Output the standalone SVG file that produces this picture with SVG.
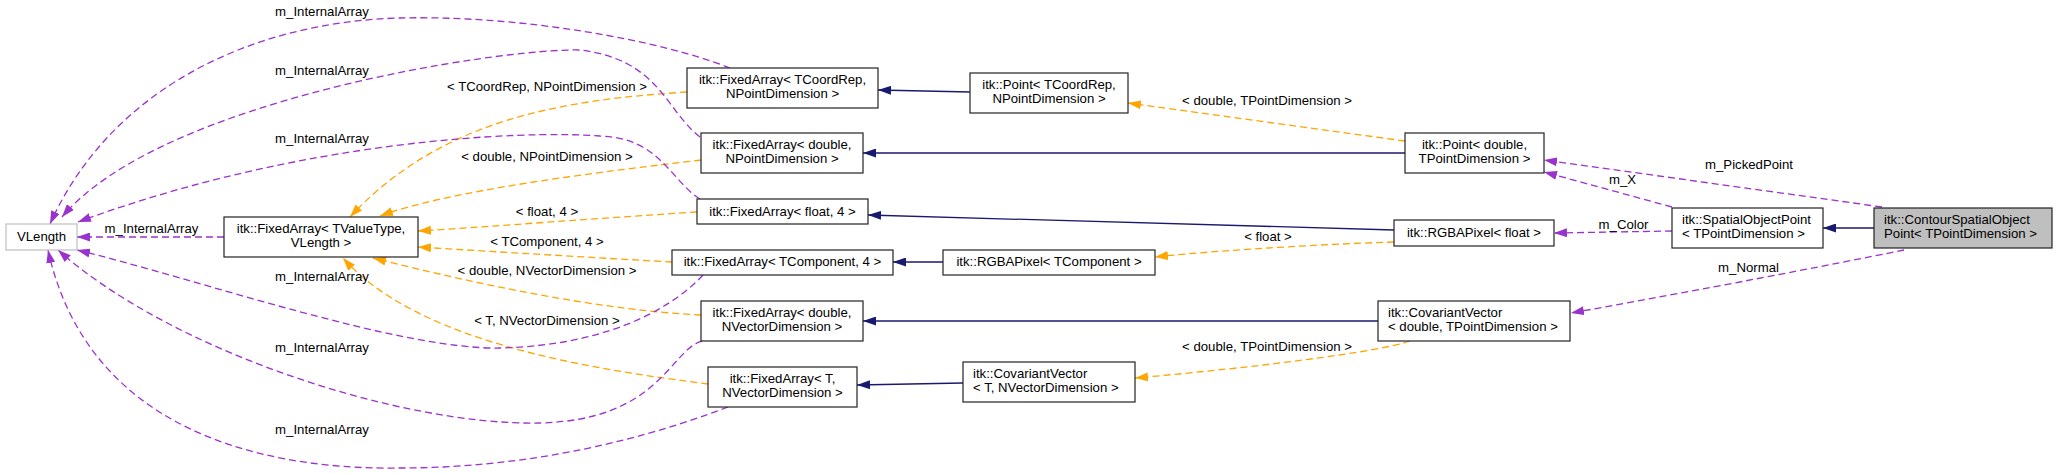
<svg xmlns="http://www.w3.org/2000/svg" width="2056" height="474" viewBox="0 0 2056 474">
<style>
text{font-family:"Liberation Sans",Arial,Helvetica,sans-serif;font-size:13.2px;fill:#000}
.m{text-anchor:middle}
.node rect{fill:#fff;stroke:#222;stroke-width:1.2}
.inh{fill:none;stroke:#191970;stroke-width:1.3}
.tpl{fill:none;stroke:#ffa500;stroke-width:1.3;stroke-dasharray:7,4}
.mem{fill:none;stroke:#9a32cd;stroke-width:1.3;stroke-dasharray:7,4}
</style>
<defs>
<marker id="aN" viewBox="0 0 13 9" refX="13" refY="4.5" markerWidth="13" markerHeight="9" markerUnits="userSpaceOnUse" orient="auto"><path d="M0,0 L13,4.5 L0,9 z" fill="#191970"/></marker>
<marker id="aO" viewBox="0 0 13 9" refX="13" refY="4.5" markerWidth="13" markerHeight="9" markerUnits="userSpaceOnUse" orient="auto"><path d="M0,0 L13,4.5 L0,9 z" fill="#ffa500"/></marker>
<marker id="aP" viewBox="0 0 13 9" refX="13" refY="4.5" markerWidth="13" markerHeight="9" markerUnits="userSpaceOnUse" orient="auto"><path d="M0,0 L13,4.5 L0,9 z" fill="#9a32cd"/></marker>
</defs>

<g id="connectors">
  <!-- inheritance -->
  <path class="inh" d="M970,92 L878,90" marker-end="url(#aN)"/>
  <path class="inh" d="M1405,153 L863,153" marker-end="url(#aN)"/>
  <path class="inh" d="M1394,230 L868,215" marker-end="url(#aN)"/>
  <path class="inh" d="M943,262 L893,262" marker-end="url(#aN)"/>
  <path class="inh" d="M1378,321 L863,321" marker-end="url(#aN)"/>
  <path class="inh" d="M963,383 L857,385" marker-end="url(#aN)"/>
  <path class="inh" d="M1874,228 L1823,228" marker-end="url(#aN)"/>

  <!-- template instantiations -->
  <path class="tpl" d="M687,92 C560,100 440,120 350,217" marker-end="url(#aO)"/>
  <text class="m" x="547" y="91">&lt; TCoordRep, NPointDimension &gt;</text>
  <path class="tpl" d="M701,160 C600,172 450,190 380,216" marker-end="url(#aO)"/>
  <text class="m" x="547" y="161">&lt; double, NPointDimension &gt;</text>
  <path class="tpl" d="M697,212 C600,218 500,226 418,231" marker-end="url(#aO)"/>
  <text class="m" x="547" y="215.5">&lt; float, 4 &gt;</text>
  <path class="tpl" d="M672,262 C600,258 500,252 418,247" marker-end="url(#aO)"/>
  <text class="m" x="547" y="245.5">&lt; TComponent, 4 &gt;</text>
  <path class="tpl" d="M701,315 C600,310 480,285 373,258" marker-end="url(#aO)"/>
  <text class="m" x="547" y="275">&lt; double, NVectorDimension &gt;</text>
  <path class="tpl" d="M708,384 C600,370 420,345 343,258" marker-end="url(#aO)"/>
  <text class="m" x="547" y="325">&lt; T, NVectorDimension &gt;</text>
  <path class="tpl" d="M1405,141 L1128,103" marker-end="url(#aO)"/>
  <text class="m" x="1267" y="104.5">&lt; double, TPointDimension &gt;</text>
  <path class="tpl" d="M1394,242 C1300,245 1200,252 1155,257" marker-end="url(#aO)"/>
  <text class="m" x="1268" y="241">&lt; float &gt;</text>
  <path class="tpl" d="M1410,341 C1380,352 1250,368 1135,378" marker-end="url(#aO)"/>
  <text class="m" x="1267" y="351">&lt; double, TPointDimension &gt;</text>

  <!-- members -->
  <path class="mem" d="M730,68 C660,40 520,15 400,18 C250,22 110,90 50,224" marker-end="url(#aP)"/>
  <text class="m" x="322" y="16">m_InternalArray</text>
  <path class="mem" d="M700,137 C665,110 660,60 580,50 C500,48 160,100 62,217" marker-end="url(#aP)"/>
  <text class="m" x="322" y="75">m_InternalArray</text>
  <path class="mem" d="M700,199 C670,180 660,138 600,136 C520,130 300,140 78,222" marker-end="url(#aP)"/>
  <text class="m" x="322" y="143">m_InternalArray</text>
  <path class="mem" d="M224,237 L77,237" marker-end="url(#aP)"/>
  <text class="m" x="151.5" y="233">m_InternalArray</text>
  <path class="mem" d="M703,275 C680,300 620,345 500,348 C400,350 200,280 77,250" marker-end="url(#aP)"/>
  <text class="m" x="322" y="281">m_InternalArray</text>
  <path class="mem" d="M702,341 C670,350 660,420 540,423 C400,426 170,350 58,250" marker-end="url(#aP)"/>
  <text class="m" x="322" y="352">m_InternalArray</text>
  <path class="mem" d="M728,407 C680,425 560,468 400,468 C280,470 90,440 48,250" marker-end="url(#aP)"/>
  <text class="m" x="322" y="433.5">m_InternalArray</text>
  <path class="mem" d="M1882,207 L1544,160" marker-end="url(#aP)"/>
  <text class="m" x="1749" y="168.5">m_PickedPoint</text>
  <path class="mem" d="M1672,207 L1544,172" marker-end="url(#aP)"/>
  <text class="m" x="1622.5" y="183.5">m_X</text>
  <path class="mem" d="M1672,231 L1554,233" marker-end="url(#aP)"/>
  <text class="m" x="1623.5" y="228.5">m_Color</text>
  <path class="mem" d="M1904,250 C1830,265 1700,290 1571,313" marker-end="url(#aP)"/>
  <text class="m" x="1748.5" y="271.5">m_Normal</text>
</g>

<g id="node-VLength" class="node"><rect x="6" y="224" width="71" height="26" style="stroke:#bfbfbf"/><text class="m" x="41.5" y="241">VLength</text></g>
<g id="node-FixedArray-TValueType" class="node"><rect x="224" y="217" width="194" height="40"/><text class="m" x="321" y="233">itk::FixedArray&lt; TValueType,</text><text class="m" x="321" y="247">VLength &gt;</text></g>
<g id="node-FixedArray-TCoordRep" class="node"><rect x="687" y="68" width="191" height="40"/><text class="m" x="782.5" y="84">itk::FixedArray&lt; TCoordRep,</text><text class="m" x="782.5" y="98">NPointDimension &gt;</text></g>
<g id="node-Point-TCoordRep" class="node"><rect x="970" y="73" width="158" height="40"/><text class="m" x="1049" y="89">itk::Point&lt; TCoordRep,</text><text class="m" x="1049" y="103">NPointDimension &gt;</text></g>
<g id="node-FixedArray-double-NPoint" class="node"><rect x="701" y="133" width="162" height="40"/><text class="m" x="782" y="149">itk::FixedArray&lt; double,</text><text class="m" x="782" y="163">NPointDimension &gt;</text></g>
<g id="node-FixedArray-float-4" class="node"><rect x="697" y="199" width="171" height="25"/><text class="m" x="782.5" y="215.5">itk::FixedArray&lt; float, 4 &gt;</text></g>
<g id="node-Point-double" class="node"><rect x="1405" y="133" width="139" height="40"/><text class="m" x="1474.5" y="149">itk::Point&lt; double,</text><text class="m" x="1474.5" y="163">TPointDimension &gt;</text></g>
<g id="node-RGBAPixel-float" class="node"><rect x="1394" y="220" width="160" height="26"/><text class="m" x="1474" y="237">itk::RGBAPixel&lt; float &gt;</text></g>
<g id="node-SpatialObjectPoint" class="node"><rect x="1672" y="208" width="151" height="40"/><text x="1682" y="224">itk::SpatialObjectPoint</text><text x="1682" y="238">&lt; TPointDimension &gt;</text></g>
<g id="node-ContourSpatialObjectPoint" class="node"><rect x="1874" y="208" width="178" height="40" style="fill:#bfbfbf"/><text x="1884" y="224">itk::ContourSpatialObject</text><text x="1884" y="238">Point&lt; TPointDimension &gt;</text></g>
<g id="node-FixedArray-TComponent-4" class="node"><rect x="672" y="250" width="221" height="25"/><text class="m" x="782.5" y="266">itk::FixedArray&lt; TComponent, 4 &gt;</text></g>
<g id="node-RGBAPixel-TComponent" class="node"><rect x="943" y="250" width="212" height="25"/><text class="m" x="1049" y="266">itk::RGBAPixel&lt; TComponent &gt;</text></g>
<g id="node-FixedArray-double-NVector" class="node"><rect x="701" y="301" width="162" height="40"/><text class="m" x="782" y="317">itk::FixedArray&lt; double,</text><text class="m" x="782" y="331">NVectorDimension &gt;</text></g>
<g id="node-CovariantVector-double" class="node"><rect x="1378" y="301" width="192" height="40"/><text x="1388" y="317">itk::CovariantVector</text><text x="1388" y="331">&lt; double, TPointDimension &gt;</text></g>
<g id="node-FixedArray-T-NVector" class="node"><rect x="708" y="367" width="149" height="40"/><text class="m" x="782.5" y="383">itk::FixedArray&lt; T,</text><text class="m" x="782.5" y="397">NVectorDimension &gt;</text></g>
<g id="node-CovariantVector-T" class="node"><rect x="963" y="362" width="172" height="40"/><text x="973" y="378">itk::CovariantVector</text><text x="973" y="392">&lt; T, NVectorDimension &gt;</text></g>
</svg>
